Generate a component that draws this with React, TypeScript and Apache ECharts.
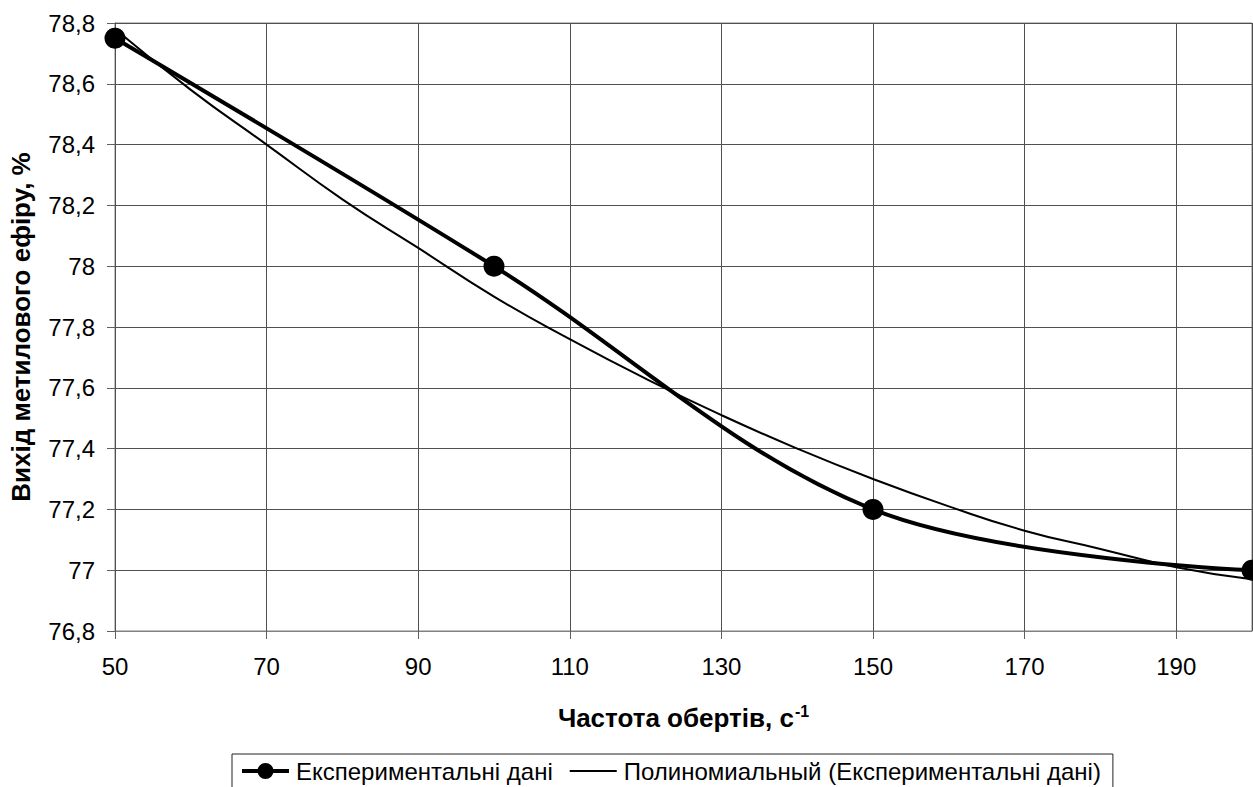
import React, { useEffect, useRef } from "react";
import * as echarts from "echarts";

const expX = [50, 100, 150, 200];
const expY = [78.75, 78.0, 77.2, 77.0];

const polyX = [50, 60, 70, 80, 90, 100, 110, 120, 130, 140, 150, 160, 170, 180, 190, 200];
const polyY = [78.78, 78.58, 78.4, 78.22, 78.06, 77.9, 77.76, 77.63, 77.51, 77.4, 77.3, 77.21, 77.13, 77.07, 77.01, 76.97];

const seriesNames = ["Експериментальні дані", "Полиномиальный (Експериментальні дані)"];
const xTitle = "Частота обертів, с";
const xTitleSup = "-1";
const yTitle = "Вихід метилового ефіру, %";

const FONT = "Arial, 'Liberation Sans', sans-serif";

const ICON_MARKER_LINE =
  "path://M0,0 M47,20 M0,8 L47,8 L47,12 L0,12 Z M23.5,2 A8,8 0 1 1 23.5,18 A8,8 0 1 1 23.5,2 Z";
const ICON_THIN_LINE = "path://M0,0 M47,20 M0,9 L47,9 L47,11 L0,11 Z";

export default function App() {
  const ref = useRef<HTMLDivElement>(null);
  useEffect(() => {
    document.body.style.margin = "0";
    const chart = echarts.init(ref.current!, null, { renderer: "svg" });
    chart.setOption({
      animation: false,
      backgroundColor: "#ffffff",
      textStyle: { fontFamily: FONT },
      grid: { left: 115, right: 1, top: 23, bottom: 156, containLabel: false, show: true, borderColor: "#808080", borderWidth: 1 },
      legend: {
        left: 232,
        top: 754,
        data: [
          { name: seriesNames[0], icon: ICON_MARKER_LINE },
          { name: seriesNames[1], icon: ICON_THIN_LINE },
        ],
        itemWidth: 47,
        itemHeight: 20,
        itemGap: 17,
        padding: [5, 12, 14, 10],
        borderColor: "#222",
        borderWidth: 1,
        textStyle: { fontSize: 24, color: "#000", fontFamily: FONT, padding: [0, 0, 0, 2] },
      },
      xAxis: {
        type: "value",
        min: 50,
        max: 200,
        interval: 20,
        name: `{b|${xTitle}}{s|${xTitleSup}}`,
        nameLocation: "middle",
        nameGap: 72,
        nameTextStyle: {
          rich: {
            b: { fontSize: 26, fontWeight: "bold", color: "#000", fontFamily: FONT },
            s: { fontSize: 16, fontWeight: "bold", color: "#000", fontFamily: FONT, padding: [0, 0, 14, 1] },
          },
        },
        axisLine: { show: true, lineStyle: { color: "#808080", width: 1 } },
        axisTick: { show: true, length: 8, lineStyle: { color: "#606060" } },
        axisLabel: { fontSize: 24, color: "#000", margin: 23, showMaxLabel: false, fontFamily: FONT },
        splitLine: { show: true, lineStyle: { color: "#505050", width: 1 } },
      },
      yAxis: {
        type: "value",
        min: 76.8,
        max: 78.8,
        interval: 0.2,
        name: yTitle,
        nameLocation: "middle",
        nameGap: 81,
        nameRotate: 90,
        nameTextStyle: { fontSize: 26, fontWeight: "bold", color: "#000", fontFamily: FONT },
        axisLine: { show: true, lineStyle: { color: "#505050", width: 1 } },
        axisTick: { show: true, length: 8, lineStyle: { color: "#606060" } },
        axisLabel: {
          fontSize: 24,
          color: "#000",
          margin: 20,
          fontFamily: FONT,
          formatter: (v: number) => String(Math.round(v * 10) / 10).replace(".", ","),
        },
        splitLine: { show: true, lineStyle: { color: "#505050", width: 1 } },
      },
      series: [
        {
          name: seriesNames[0],
          type: "line",
          data: expX.map((x, i) => [x, expY[i]]),
          smooth: 0.35,
          symbol: "circle",
          symbolSize: 21,
          lineStyle: { color: "#000", width: 4 },
          itemStyle: { color: "#000" },
          z: 3,
        },
        {
          name: seriesNames[1],
          type: "line",
          data: polyX.map((x, i) => [x, polyY[i]]),
          smooth: true,
          symbol: "none",
          lineStyle: { color: "#000", width: 2 },
          itemStyle: { color: "#000" },
          z: 2,
        },
      ],
    });
    return () => chart.dispose();
  }, []);
  return <div ref={ref} style={{ width: 1253, height: 787 }} />;
}
